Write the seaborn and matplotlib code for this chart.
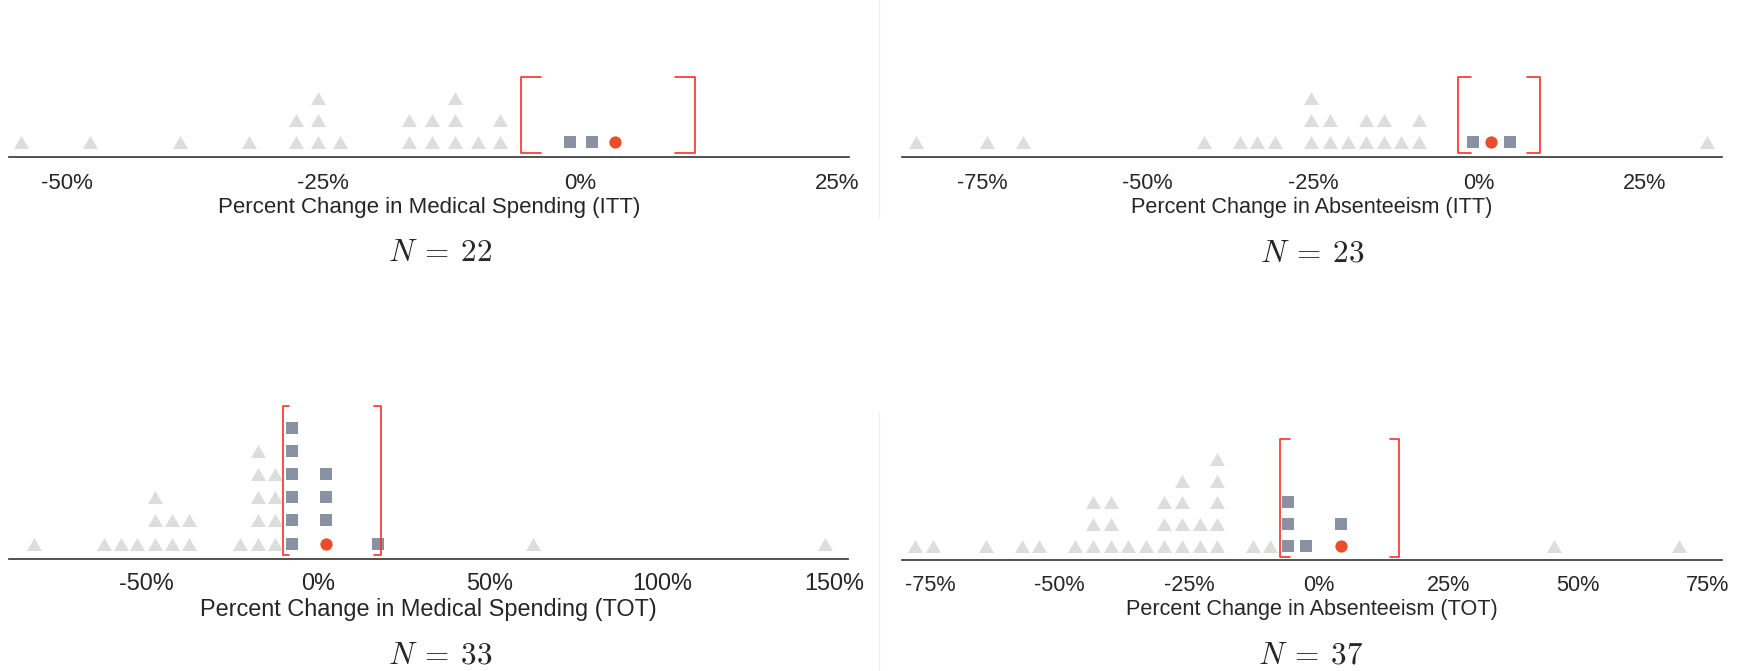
import seaborn as sns
import matplotlib.pyplot as plt
import numpy as np
import pandas as pd

# Percent changes. "others" = published estimates outside
# the confidence interval (grey triangles), "within" = estimates inside it
# (grey squares), "own" = this study's point estimate (red dot).
itt_med_others = [-54.4, -47.7, -38.9, -32.2, -27.7, -27.7, -25.5, -25.5, -25.5, -23.4,
                  -16.6, -16.6, -14.4, -14.4, -12.2, -12.2, -12.2, -9.9, -7.8, -7.8]
itt_med_within = [-1.0, 1.2]
itt_med_own = 3.4
itt_med_ci = [-5.7, 11.2]

itt_abs_others = [-85.0, -74.2, -68.8, -41.5, -36.1, -33.5, -30.8, -25.3, -25.3, -25.3,
                  -22.5, -22.5, -19.7, -17.1, -17.1, -14.4, -14.4, -11.7, -9.0, -9.0, 34.5]
itt_abs_within = [-0.9, 4.7]
itt_abs_own = 1.9
itt_abs_ci = [-3.1, 9.2]

tot_med_others = [-82.6, -62.3, -57.4, -52.6, -47.5, -47.5, -47.5, -42.4, -42.4, -37.5, -37.5,
                  -22.6, -17.4, -17.4, -17.4, -17.4, -17.4, -12.6, -12.6, -12.6, -12.6,
                  62.5, 147.5]
tot_med_within = [-7.6, -7.6, -7.6, -7.6, -7.6, -7.6, 2.3, 2.3, 2.3, 17.4]
tot_med_own = 2.3
tot_med_ci = [-10.3, 18.2]

tot_abs_others = [-77.8, -74.5, -64.2, -57.3, -53.9, -47.0, -43.6, -43.6, -43.6, -40.2, -40.2, -40.2,
                  -36.8, -33.4, -29.9, -29.9, -29.9, -26.5, -26.5, -26.5, -26.5, -23.0, -23.0,
                  -19.6, -19.6, -19.6, -19.6, -19.6, -12.7, -9.5, 45.4, 69.4]
tot_abs_within = [-6.0, -6.0, -6.0, -2.6, 4.2]
tot_abs_own = 4.2
tot_abs_ci = [-7.5, 15.5]

ticks_itt_med = [-50, -25, 0, 25]
ticks_itt_abs = [-75, -50, -25, 0, 25]
ticks_tot_med = [-50, 0, 50, 100, 150]
ticks_tot_abs = [-75, -50, -25, 0, 25, 50, 75]

W, H = 1745, 671
TRI = [(-1, -0.866), (1, -0.866), (0, 0.866)]
COLORS = {'own': '#e84e2b', 'within': '#8892a2', 'other': '#dddddd'}


def stack_marks(others, within, own):
    """Stack estimates that share a value into columns (own estimate at the bottom)."""
    df = pd.DataFrame({
        'value': [own] + list(within) + list(others),
        'kind': ['own'] + ['within'] * len(within) + ['other'] * len(others),
    })
    df['level'] = df.groupby('value').cumcount()
    return df


def plot_panel(fig, box, xlim, spacing, others, within, own, ci, ticks, label, fs, pad):
    """Draw one stacked dot panel; box = (x0, x1, axis line y) in pixels."""
    x0, x1, yline = box
    df = stack_marks(others, within, own)
    top = df['level'].max()
    ylim = (-0.66, top + 1.5)
    h = spacing * (ylim[1] - ylim[0])
    ax = fig.add_axes([x0 / W, 1 - yline / H, (x1 - x0) / W, h / H])

    sns.scatterplot(data=df[df.kind == 'other'], x='value', y='level', marker=TRI, s=118,
                    color=COLORS['other'], linewidth=0, ax=ax, legend=False, zorder=2)
    sns.scatterplot(data=df[df.kind == 'within'], x='value', y='level', marker='s', s=80,
                    color=COLORS['within'], linewidth=0, ax=ax, legend=False, zorder=3)
    sns.scatterplot(data=df[df.kind == 'own'], x='value', y='level', marker='o', s=78,
                    color=COLORS['own'], linewidth=0, ax=ax, legend=False, zorder=4)

    # Confidence interval bracket
    arm = 1.9
    yb, yt = -0.5, top + 0.93
    ax.plot([ci[0] + arm, ci[0], ci[0], ci[0] + arm], [yt, yt, yb, yb],
            color='#ff2d2d', lw=1.2, zorder=5, clip_on=False)
    ax.plot([ci[1] - arm, ci[1], ci[1], ci[1] - arm], [yt, yt, yb, yb],
            color='#ff2d2d', lw=1.2, zorder=5, clip_on=False)

    ax.set_xlim(*xlim)
    ax.set_ylim(*ylim)
    ax.set_xticks(ticks)
    ax.set_xticklabels([f"{t}%" for t in ticks], fontsize=fs)
    ax.set_yticks([])
    ax.set_ylabel('')
    ax.set_xlabel(label, fontsize=fs, labelpad=1.8)
    ax.tick_params(axis='x', direction='out', length=6.5, width=1.0, color='#222222', pad=pad)
    for side in ['top', 'left', 'right']:
        ax.spines[side].set_visible(False)
    ax.spines['bottom'].set_color('#333333')
    ax.spines['bottom'].set_linewidth(1.2)
    ax.patch.set_alpha(0)
    return len(others) + len(within)


sns.set_style("white")
plt.rcParams['font.family'] = ['Liberation Sans', 'DejaVu Sans']
plt.rcParams['mathtext.fontset'] = 'cm'

fig = plt.figure(figsize=(W / 100, H / 100), dpi=100)

# Faint separator between the left and right columns
fig.add_artist(plt.Line2D([879 / W, 879 / W], [1, 1 - 217 / H], color='#f0f0f0', lw=1))
fig.add_artist(plt.Line2D([879 / W, 879 / W], [1 - 412 / H, 0], color='#f0f0f0', lw=1))

n1 = plot_panel(fig, (9, 849, 157), (-55.6, 26.2), 22.3, itt_med_others, itt_med_within,
                itt_med_own, itt_med_ci, ticks_itt_med,
                'Percent Change in Medical Spending (ITT)', 16, 5.2)
n2 = plot_panel(fig, (902, 1722, 157), (-87.1, 36.7), 22.2, itt_abs_others, itt_abs_within,
                itt_abs_own, itt_abs_ci, ticks_itt_abs,
                'Percent Change in Absenteeism (ITT)', 15.6, 5.2)
n3 = plot_panel(fig, (9, 848, 559), (-89.9, 154.1), 23.2, tot_med_others, tot_med_within,
                tot_med_own, tot_med_ci, ticks_tot_med,
                'Percent Change in Medical Spending (TOT)', 16.9, 3)
n4 = plot_panel(fig, (902, 1722, 560), (-80.4, 77.7), 21.7, tot_abs_others, tot_abs_within,
                tot_abs_own, tot_abs_ci, ticks_tot_abs,
                'Percent Change in Absenteeism (TOT)', 15.6, 4.6)

# Sample size captions
for n, (cx, cy) in zip([n1, n2, n3, n4], [(440, 253), (1312, 253), (440, 656), (1311, 655)]):
    fig.text(cx / W, 1 - cy / H, rf'$N\:=\:{n}$', fontsize=22.5, ha='center', va='center')

fig.savefig('out.png', dpi=100, facecolor='white')
